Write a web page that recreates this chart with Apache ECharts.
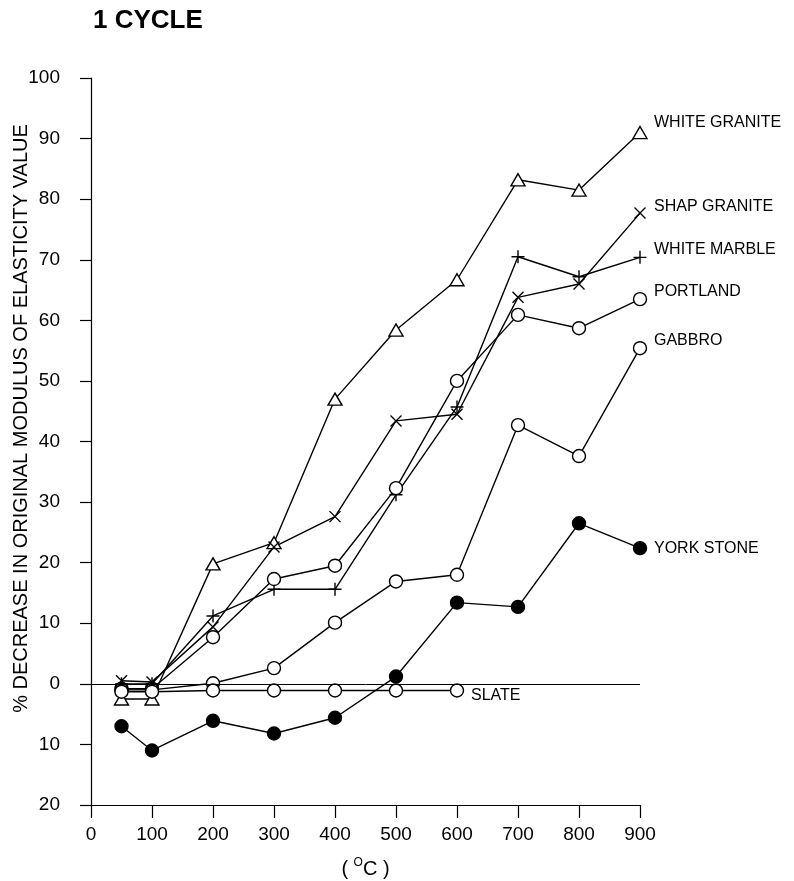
<!DOCTYPE html>
<html>
<head>
<meta charset="utf-8">
<title>1 CYCLE</title>
<script src="https://cdn.jsdelivr.net/npm/echarts@6/dist/echarts.min.js"></script>
<style>
    html, body { margin: 0; padding: 0; background: #fff; }
    #chart { width: 794px; height: 881px; }
</style>
</head>
<body>
<div id="chart"></div>
<script>
// 温度 (°C)
var temps = [50, 100, 200, 300, 400, 500, 600, 700, 800, 900];
var slateTemps = [50, 100, 200, 300, 400, 500, 600];

// % decrease in original modulus of elasticity (negative = increase)
var whiteGranite = [-2.5, -2.5, 19.8, 23.3, 47.0, 58.4, 66.7, 83.2, 81.5, 91.0];
var shapGranite = [0.5, 0.3, 9.4, 22.6, 27.6, 43.4, 44.5, 63.8, 66.0, 77.7];
var whiteMarble = [0, 0, 11.2, 15.6, 15.6, 31.2, 45.7, 70.5, 67.2, 70.4];
var portland = [-0.8, -0.8, 7.7, 17.3, 19.5, 32.3, 50.0, 60.9, 58.7, 63.5];
var gabbro = [-1.0, -1.0, 0.1, 2.6, 10.1, 16.9, 18.0, 42.7, 37.6, 55.4];
var slate = [-1.3, -1.3, -1.1, -1.1, -1.1, -1.1, -1.1];
var yorkStone = [-7.0, -11.0, -6.1, -8.2, -5.6, 1.2, 13.4, 12.7, 26.5, 22.4];

var xTicks = [0, 100, 200, 300, 400, 500, 600, 700, 800, 900];

var FONT = '"Liberation Sans", Arial, Helvetica, sans-serif';

var SYM_CROSS = 'path://M0,0L10,10M10,0L0,10';
var SYM_PLUS = 'path://M5,0L5,10M0,5L10,5';

function pairs(xs, ys) {
    return ys.map(function (v, i) { return [xs[i], v]; });
}

function makeSeries(name, xs, ys, symbol, size, fill, dy) {
    return {
        name: name,
        type: 'line',
        data: pairs(xs, ys),
        symbol: symbol,
        symbolSize: size,
        showAllSymbol: true,
        animation: false,
        lineStyle: { color: '#000', width: 1.4 },
        itemStyle: { color: fill, borderColor: '#000', borderWidth: 1.4 },
        emphasis: { disabled: true },
        endLabel: {
            show: true,
            formatter: name,
            distance: 14,
            offset: [0, dy],
            color: '#000',
            fontFamily: FONT,
            fontSize: 16
        },
        z: 3
    };
}

var my_chart = echarts.init(document.getElementById('chart'), null, { renderer: 'canvas' });

var series = [
    makeSeries('WHITE GRANITE', temps, whiteGranite, 'triangle', [14, 12], '#fff', -10),
    makeSeries('SHAP GRANITE', temps, shapGranite, SYM_CROSS, 11, 'none', -7),
    makeSeries('WHITE MARBLE', temps, whiteMarble, SYM_PLUS, 13, 'none', -8),
    makeSeries('PORTLAND', temps, portland, 'circle', 13, '#fff', -8),
    makeSeries('GABBRO', temps, gabbro, 'circle', 13, '#fff', -8),
    makeSeries('SLATE', slateTemps, slate, 'circle', 13, '#fff', 5),
    makeSeries('YORK STONE', temps, yorkStone, 'circle', 13, '#000', 0)
];

// 零线
series[0].markLine = {
    silent: true,
    symbol: 'none',
    animation: false,
    label: { show: false },
    lineStyle: { color: '#000', width: 1, type: 'solid' },
    data: [{ yAxis: 0 }]
};

var option = {
    backgroundColor: '#fff',
    title: {
        text: '1 CYCLE',
        left: 88,
        top: 3,
        textStyle: { fontFamily: FONT, fontSize: 26, fontWeight: 'bold', color: '#000' }
    },
    grid: { left: 91, right: 154, top: 78, bottom: 76, containLabel: false, outerBoundsMode: 'none' },
    xAxis: {
        type: 'value',
        min: xTicks[0],
        max: xTicks[xTicks.length - 1],
        interval: 100,
        name: '{n|( }{s|O}{n|C )}',
        nameLocation: 'middle',
        nameGap: 52,
        nameMoveOverlap: false,
        nameTextStyle: {
            fontFamily: FONT,
            color: '#000',
            rich: {
                n: { fontFamily: FONT, fontSize: 20, color: '#000', verticalAlign: 'bottom' },
                s: { fontFamily: FONT, fontSize: 12, color: '#000', verticalAlign: 'bottom', padding: [0, 0, 10, 0] }
            }
        },
        axisLine: { show: true, onZero: false, lineStyle: { color: '#000', width: 1.2 } },
        axisTick: { show: true, inside: false, length: 13, lineStyle: { color: '#000', width: 1.2 } },
        axisLabel: { margin: 20, fontFamily: FONT, fontSize: 19, color: '#000' },
        splitLine: { show: false }
    },
    yAxis: {
        type: 'value',
        min: -20,
        max: 100,
        interval: 10,
        name: '% DECREASE IN ORIGINAL MODULUS OF ELASTICITY VALUE',
        nameLocation: 'middle',
        nameGap: 60,
        nameMoveOverlap: false,
        nameTextStyle: {
            fontFamily: FONT,
            fontSize: 20,
            color: '#000',
            padding: [0, 0, 0, 46]
        },
        axisLine: { show: true, onZero: false, lineStyle: { color: '#000', width: 1.2 } },
        axisTick: { show: true, inside: false, length: 11, lineStyle: { color: '#000', width: 1.2 } },
        axisLabel: {
            margin: 31,
            fontFamily: FONT,
            fontSize: 19,
            color: '#000',
            formatter: function (v) { return String(Math.abs(v)); }
        },
        splitLine: { show: false }
    },
    series: series
};

my_chart.setOption(option);
</script>
</body>
</html>
